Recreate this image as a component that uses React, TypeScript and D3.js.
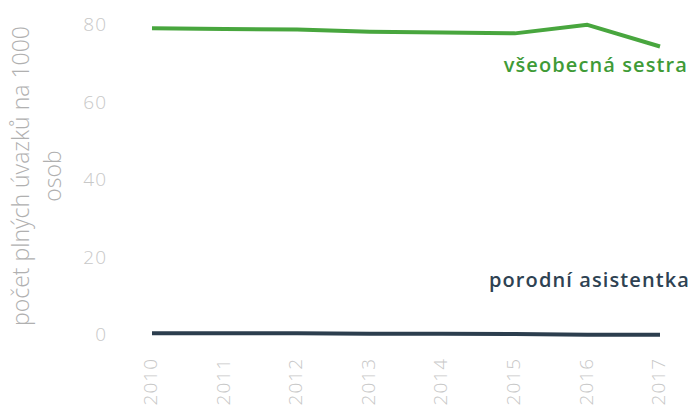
import React from "react";
import * as d3 from "d3";

const years = [2010, 2011, 2012, 2013, 2014, 2015, 2016, 2017];
const nurseValues = [79.4, 79.2, 79.1, 78.5, 78.3, 78.1, 80.3, 74.7];
const midwifeValues = [0.7, 0.7, 0.7, 0.6, 0.6, 0.5, 0.3, 0.3];
const yTicks = [0, 20, 40, 60, 80];
const seriesNames = ["všeobecná sestra", "porodní asistentka"];
const yTitleLines = ["počet plných úvazků na 1000", "osob"];

const W = 694;
const H = 416;
const FONT = "'Open Sans', 'Noto Sans', sans-serif";

export default function App() {
  const x = d3.scalePoint<number>().domain(years).range([152, 660]);
  const y = d3.scaleLinear().domain([0, 80]).range([336, 26]);
  const line = d3
    .line<number>()
    .x((_, i) => x(years[i]) as number)
    .y((d) => y(d));

  return (
    <svg
      width={W}
      height={H}
      style={{ position: "absolute", left: 0, top: 0, background: "#fff" }}
      fontFamily={FONT}
    >
      {/* y axis title */}
      <g transform={`translate(23, 176) rotate(-90)`}>
        <text x={0} y={0} textAnchor="middle" dominantBaseline="middle" fontSize={23} fill="#b0b0b0" fontWeight={300}>
          {yTitleLines[0]}
        </text>
        <text x={0} y={32} textAnchor="middle" dominantBaseline="middle" fontSize={23} fill="#b0b0b0" fontWeight={300}>
          {yTitleLines[1]}
        </text>
      </g>
      {/* y ticks */}
      {yTicks.map((t) => (
        <text key={t} x={107} y={y(t)} textAnchor="end" dominantBaseline="middle" fontSize={19} letterSpacing={1} fill="#c8c8c8" fontWeight={300}>
          {t}
        </text>
      ))}
      {/* x ticks */}
      {years.map((yr) => (
        <text
          key={yr}
          transform={`translate(${x(yr)}, 358) rotate(-90)`}
          textAnchor="end"
          dominantBaseline="middle"
          fontSize={19}
          letterSpacing={1}
          fill="#c8c8c8"
          fontWeight={300}
        >
          {yr}
        </text>
      ))}
      {/* lines */}
      <path d={line(nurseValues) || ""} fill="none" stroke="#48a63e" strokeWidth={4} strokeLinejoin="round" />
      <path d={line(midwifeValues) || ""} fill="none" stroke="#2c3e4e" strokeWidth={4} strokeLinejoin="round" />
      {/* labels */}
      <text x={688} y={72} textAnchor="end" fontSize={20} fontWeight={600} letterSpacing={1.1} fill="#3f9b37">
        {seriesNames[0]}
      </text>
      <text x={690} y={287} textAnchor="end" fontSize={20} fontWeight={600} letterSpacing={1.1} fill="#2e4252">
        {seriesNames[1]}
      </text>
    </svg>
  );
}
